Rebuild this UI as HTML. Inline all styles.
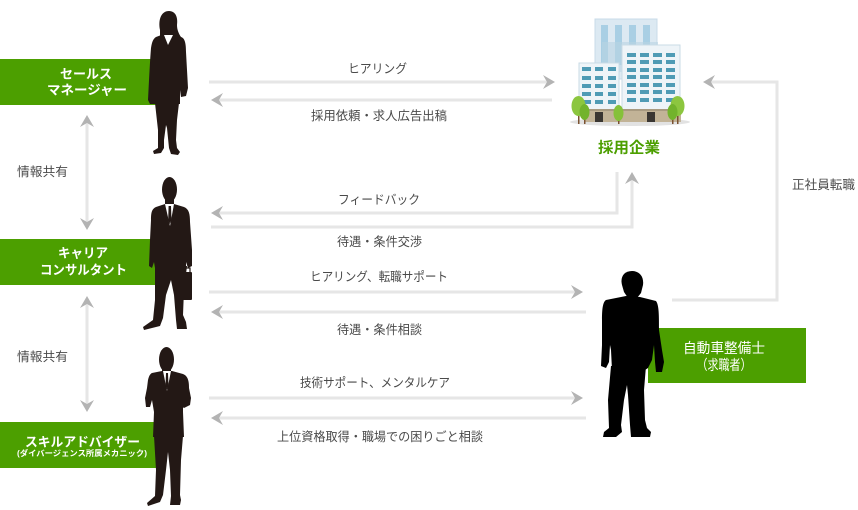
<!DOCTYPE html>
<html><head><meta charset="utf-8"><style>
html,body{margin:0;padding:0;background:#fff;}
svg{display:block;}
text{font-family:"Liberation Sans","Noto Sans CJK JP",sans-serif;}
</style></head><body>
<svg width="858" height="510" viewBox="0 0 858 510" xmlns="http://www.w3.org/2000/svg">
<rect width="858" height="510" fill="#fff"/>

<!-- green boxes -->
<g fill="#4c9f00">
<rect x="0" y="59" width="156" height="46"/>
<rect x="0" y="239" width="156" height="46"/>
<rect x="0" y="422" width="156" height="46"/>
<rect x="648" y="328" width="158" height="55"/>
</g>

<!-- connector lines -->
<g stroke="#e6e6e6" stroke-width="3" fill="none">
<line x1="209" y1="82" x2="547" y2="82"/>
<line x1="219" y1="100" x2="552" y2="100"/>
<polyline points="617,172 617,213 219,213"/>
<polyline points="211,227 632,227 632,180"/>
<line x1="209" y1="292" x2="575" y2="292"/>
<line x1="219" y1="312" x2="586" y2="312"/>
<line x1="209" y1="398" x2="575" y2="398"/>
<line x1="219" y1="418" x2="586" y2="418"/>
<polyline points="672,300 777,300 777,82 711,82"/>
<line x1="87" y1="123" x2="87" y2="222"/>
<line x1="87" y1="304" x2="87" y2="404"/>
</g>

<!-- arrowheads -->
<g fill="#b3b3b3">
<polygon points="555,82 543,75 547,82 543,89"/>
<polygon points="211,100 223,93 219,100 223,107"/>
<polygon points="211,213 223,206 219,213 223,220"/>
<polygon points="632,172 625,184 632,180 639,184"/>
<polygon points="583,292 571,285 575,292 571,299"/>
<polygon points="211,312 223,305 219,312 223,319"/>
<polygon points="583,398 571,391 575,398 571,405"/>
<polygon points="211,418 223,411 219,418 223,425"/>
<polygon points="703,82 715,75 711,82 715,89"/>
<polygon points="87,115 80,127 87,123 94,127"/>
<polygon points="87,230 80,218 87,222 94,218"/>
<polygon points="87,296 80,308 87,304 94,308"/>
<polygon points="87,412 80,400 87,404 94,400"/>
</g>

<!-- gray labels -->
<g fill="#4a4a4a" font-size="12.5" text-anchor="middle" dominant-baseline="central">
<text x="377.5" y="69" textLength="59" lengthAdjust="spacingAndGlyphs">ヒアリング</text>
<text x="379" y="116" textLength="136" lengthAdjust="spacingAndGlyphs">採用依頼・求人広告出稿</text>
<text x="379" y="200" textLength="82" lengthAdjust="spacingAndGlyphs">フィードバック</text>
<text x="379.5" y="242" textLength="85" lengthAdjust="spacingAndGlyphs">待遇・条件交渉</text>
<text x="379" y="277" textLength="138" lengthAdjust="spacingAndGlyphs">ヒアリング、転職サポート</text>
<text x="379.5" y="330" textLength="85" lengthAdjust="spacingAndGlyphs">待遇・条件相談</text>
<text x="375" y="383" textLength="150" lengthAdjust="spacingAndGlyphs">技術サポート、メンタルケア</text>
<text x="380" y="437" textLength="206" lengthAdjust="spacingAndGlyphs">上位資格取得・職場での困りごと相談</text>
<text x="42.5" y="172" textLength="51" lengthAdjust="spacingAndGlyphs">情報共有</text>
<text x="42.5" y="357" textLength="51" lengthAdjust="spacingAndGlyphs">情報共有</text>
<text x="823.5" y="185" textLength="63" lengthAdjust="spacingAndGlyphs">正社員転職</text>
</g>

<!-- white box labels -->
<g fill="#fff" font-weight="bold" text-anchor="middle" dominant-baseline="central">
<text x="86" y="74" font-size="13" textLength="52" lengthAdjust="spacingAndGlyphs">セールス</text>
<text x="87" y="90" font-size="13" textLength="80" lengthAdjust="spacingAndGlyphs">マネージャー</text>
<text x="83" y="253" font-size="13" textLength="50" lengthAdjust="spacingAndGlyphs">キャリア</text>
<text x="83.5" y="270" font-size="13" textLength="87" lengthAdjust="spacingAndGlyphs">コンサルタント</text>
<text x="82.5" y="442" font-size="13" textLength="115" lengthAdjust="spacingAndGlyphs">スキルアドバイザー</text>
<text x="82" y="453.5" font-size="8" textLength="130" lengthAdjust="spacingAndGlyphs">(ダイバージェンス所属メカニック)</text>
</g>
<g fill="#fff" text-anchor="middle" dominant-baseline="central" font-size="14">
<text x="724" y="348" textLength="82" lengthAdjust="spacingAndGlyphs">自動車整備士</text>
<text x="724" y="365" textLength="55" lengthAdjust="spacingAndGlyphs">（求職者）</text>
</g>

<!-- company label -->
<text x="629" y="148" fill="#4c9f00" font-size="15" font-weight="bold" text-anchor="middle" dominant-baseline="central" textLength="62" lengthAdjust="spacingAndGlyphs">採用企業</text>

<!-- building -->
<g>
<ellipse cx="630" cy="122" rx="60" ry="4" fill="#e2e2e2"/>
<rect x="595" y="19" width="62" height="60" fill="#dce9f2" stroke="#c8dbe8" stroke-width="1"/>
<g fill="#a9cfe4">
<rect x="601" y="25" width="7" height="40"/>
<rect x="615" y="25" width="7" height="40"/>
<rect x="629" y="25" width="7" height="40"/>
<rect x="643" y="25" width="7" height="40"/>
</g>
<rect x="602" y="42" width="56" height="30" fill="#b9d3e3" opacity="0.6"/>
<rect x="579" y="63" width="40" height="48" fill="#eef4f8" stroke="#c9dbe6" stroke-width="1"/>
<rect x="622" y="45" width="58" height="66" fill="#eef4f8" stroke="#c9dbe6" stroke-width="1"/>
<g fill="#4f9bb5">
<rect x="582" y="67" width="9" height="4"/><rect x="595" y="67" width="8" height="4"/><rect x="608" y="67" width="8" height="4"/>
<rect x="582" y="76" width="9" height="4"/><rect x="595" y="76" width="8" height="4"/><rect x="608" y="76" width="8" height="4"/>
<rect x="582" y="84" width="9" height="4"/><rect x="595" y="84" width="8" height="4"/><rect x="608" y="84" width="8" height="4"/>
<rect x="582" y="92" width="9" height="4"/><rect x="595" y="92" width="8" height="4"/><rect x="608" y="92" width="8" height="4"/>
<rect x="582" y="100" width="9" height="4"/><rect x="595" y="100" width="8" height="4"/><rect x="608" y="100" width="8" height="4"/>
<rect x="627" y="53" width="9" height="4"/><rect x="640" y="53" width="9" height="4"/><rect x="653" y="53" width="9" height="4"/><rect x="666" y="53" width="9" height="4"/>
<rect x="627" y="60" width="9" height="4"/><rect x="640" y="60" width="9" height="4"/><rect x="653" y="60" width="9" height="4"/><rect x="666" y="60" width="9" height="4"/>
<rect x="627" y="68" width="9" height="4"/><rect x="640" y="68" width="9" height="4"/><rect x="653" y="68" width="9" height="4"/><rect x="666" y="68" width="9" height="4"/>
<rect x="627" y="75" width="9" height="4"/><rect x="640" y="75" width="9" height="4"/><rect x="653" y="75" width="9" height="4"/><rect x="666" y="75" width="9" height="4"/>
<rect x="627" y="83" width="9" height="4"/><rect x="640" y="83" width="9" height="4"/><rect x="653" y="83" width="9" height="4"/><rect x="666" y="83" width="9" height="4"/>
<rect x="627" y="90" width="9" height="4"/><rect x="640" y="90" width="9" height="4"/><rect x="653" y="90" width="9" height="4"/><rect x="666" y="90" width="9" height="4"/>
<rect x="627" y="98" width="9" height="4"/><rect x="640" y="98" width="9" height="4"/><rect x="653" y="98" width="9" height="4"/><rect x="666" y="98" width="9" height="4"/>
</g>
<rect x="585" y="109" width="96" height="13" fill="#c2b397"/>
<rect x="585" y="109" width="96" height="2" fill="#a89a80"/>
<rect x="595" y="112" width="8" height="10" fill="#3a3632"/>
<rect x="647" y="112" width="8" height="10" fill="#3a3632"/>
<!-- trees -->
<g fill="#7a5230">
<rect x="578" y="110" width="1.5" height="14"/>
<rect x="584" y="114" width="1.5" height="10"/>
<rect x="618" y="114" width="1.5" height="10"/>
<rect x="677" y="110" width="1.5" height="14"/>
<rect x="672" y="114" width="1.5" height="10"/>
</g>
<ellipse cx="578.5" cy="106" rx="7" ry="10" fill="#8cc63f"/>
<ellipse cx="584.5" cy="112" rx="5" ry="8" fill="#72b32c"/>
<ellipse cx="618.5" cy="113" rx="5" ry="8" fill="#86c13a"/>
<ellipse cx="677.5" cy="106" rx="7" ry="10" fill="#8cc63f"/>
<ellipse cx="672.5" cy="112" rx="5" ry="8" fill="#72b32c"/>
</g>

<!-- woman (sales manager) -->
<g fill="#231815">
<path d="M160,30 C158,20 161,11 169,11 C176,11 178,18 177,25 C177,30 179,34 181,37 L160,37 Z"/>
<path d="M156,37 L164,34 L172,34 L181,37 C185,38 186,44 186,52 L188,88 L186,96 L181,97 L180,90 L180,104 L150,104 L148,100 C149,80 150,60 151,48 C152,42 153,39 156,37 Z"/>
<path d="M155,103 L179,103 L177,120 L176,140 L177,148 L180,152 L178,155 L171,154 L169,148 L167,128 L166,125 L164,140 L164,148 L161,153 L154,154 L153,151 L158,148 L158,130 Z"/>
</g>
<polygon points="164,35 173,35 168,45" fill="#fff"/>

<!-- man 1 (career consultant) -->
<g fill="#231815">
<ellipse cx="169.5" cy="189.5" rx="7.5" ry="12.5"/>
<rect x="165" y="198" width="9" height="8"/>
<path d="M156,207 L165,204 L174,204 L184,207 C189,209 190,214 190,222 L192,250 L192,266 L188,268 L186,262 L186,268 L155,268 L154,262 L152,268 L149,266 L150,240 L151,220 C151,212 152,209 156,207 Z"/>
<path d="M155,266 L187,266 L184,290 L183,315 L186,322 L187,329 L177,329 L176,320 L174,295 L171,280 L166,295 L163,318 L160,326 L144,330 L143,327 L153,320 L155,300 Z"/>
<rect x="182" y="272" width="10" height="28" rx="1"/>
<rect x="184" y="268" width="6" height="5" fill="none" stroke="#231815" stroke-width="1.2"/>
</g>
<polygon points="165,204 174,204 170,226" fill="#fff"/>
<polygon points="168.6,206 171,206 171.5,220 169.8,224 168.2,220" fill="#231815"/>

<!-- man 2 (skill advisor) -->
<g fill="#231815">
<ellipse cx="166.5" cy="359.5" rx="7.5" ry="12.5"/>
<rect x="162" y="368" width="9" height="7"/>
<path d="M152,373 L162,371 L172,371 L183,374 C188,376 189,381 189,388 L191,398 L190,405 L184,408 L178,404 L181,398 L183,390 L183,412 L184,437 L153,437 L154,412 L152,400 L150,407 L146,407 L145,398 L147,388 L148,380 C149,376 150,374 152,373 Z"/>
<path d="M154,436 L183,436 L181,460 L180,495 L181,500 L180,505 L170,505 L171,496 L170,470 L168,452 L166,470 L163,495 L160,502 L148,506 L147,503 L155,496 L156,470 Z"/>
</g>
<polygon points="163,371 171,371 167,391" fill="#fff"/>
<polygon points="166,373 168,373 168.5,386 167,390 165.5,386" fill="#231815"/>

<!-- mechanic -->
<g fill="#000">
<path d="M622,285 C620,277 624,271 632,271 C640,271 644,277 643,285 L641,293 L637,298 L628,298 L624,292 Z"/>
<path d="M606,300 L626,296 L640,297 L656,301 C659,305 659,315 659,330 L662,350 L664,362 L662,372 L656,372 L655,362 L654,345 L652,360 L648,368 L645,370 L612,370 L611,350 L610,345 L609,362 L606,368 L601,366 L602,345 L602,320 C602,308 603,302 606,300 Z"/>
<path d="M611,366 L646,366 L644,390 L645,420 L647,428 L651,432 L650,437 L631,437 L630,425 L628,395 L627,385 L624,400 L621,425 L622,432 L616,437 L603,437 L604,432 L609,428 L608,400 Z"/>
</g>
</svg>
</body></html>
